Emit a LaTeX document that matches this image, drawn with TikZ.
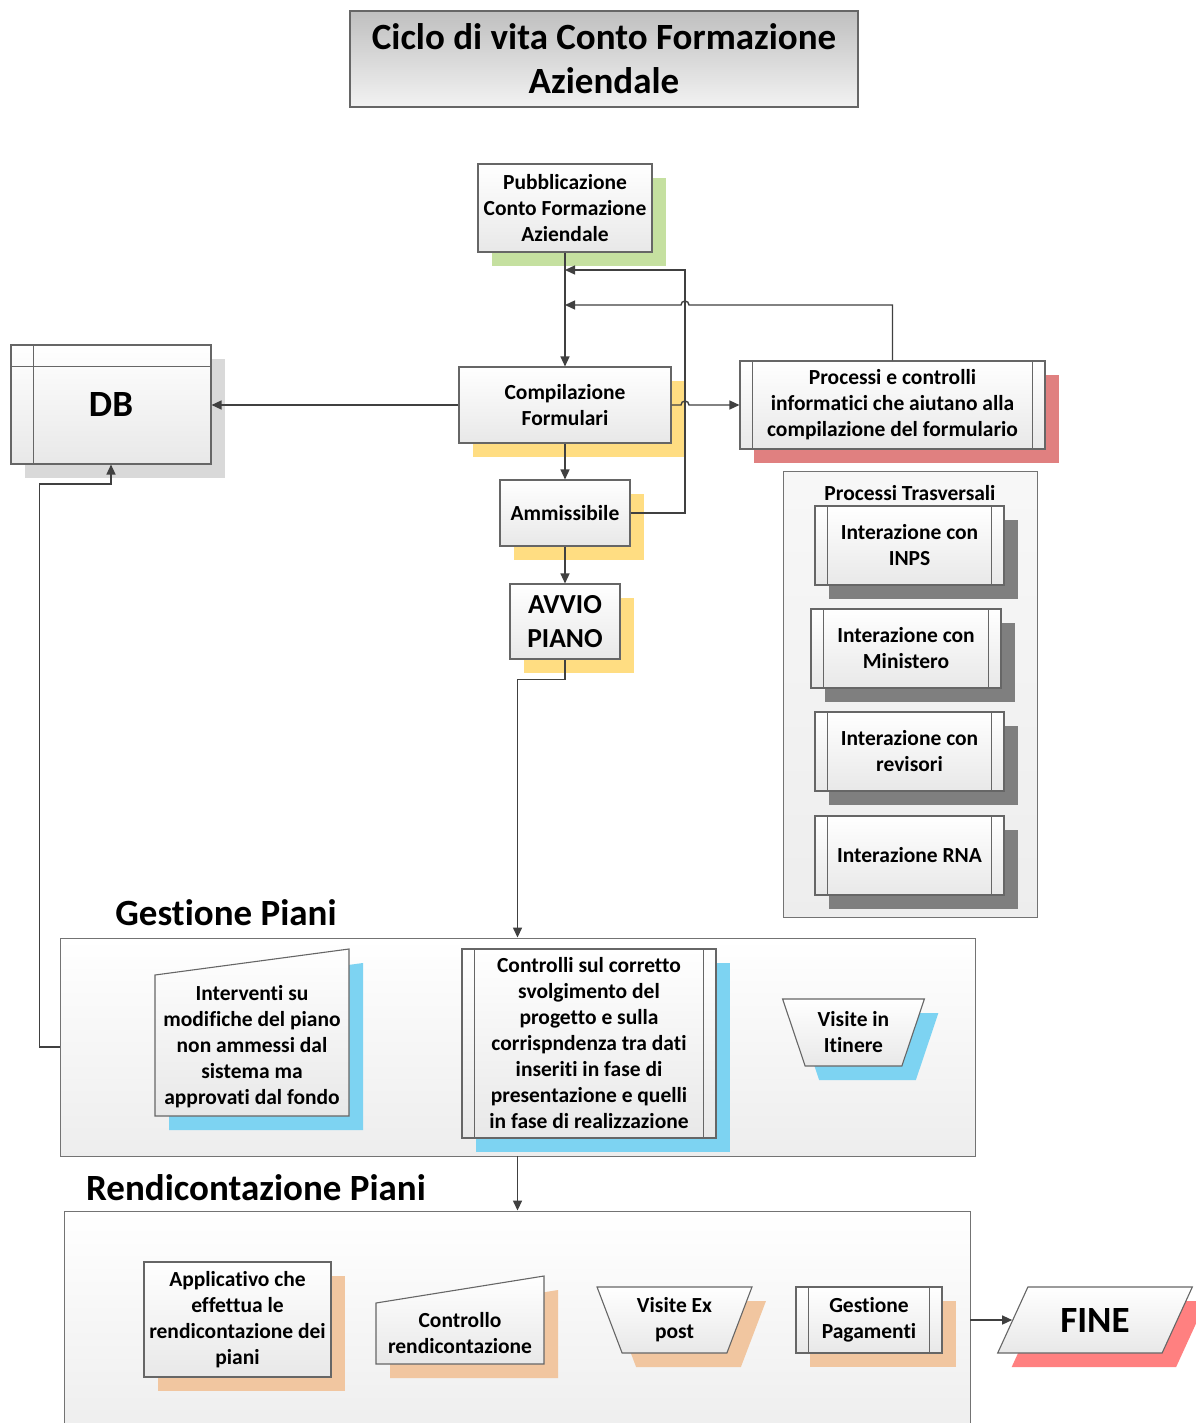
\documentclass[tikz,border=0pt]{standalone}
\usepackage{fontspec}
\setmainfont{Carlito}[RawFeature={-liga;-clig;-calt}]
\usetikzlibrary{shapes.geometric,shadows,arrows.meta}
\definecolor{cgreen}{RGB}{197,224,160}
\definecolor{cyellow}{RGB}{255,221,130}
\definecolor{cred}{RGB}{224,128,128}
\definecolor{cgrayl}{RGB}{217,217,217}
\definecolor{cgrayd}{RGB}{127,127,127}
\definecolor{cblue}{RGB}{125,211,242}
\definecolor{corange}{RGB}{241,198,160}
\definecolor{cfine}{RGB}{255,128,128}
\definecolor{cline}{RGB}{64,64,64}
\begin{document}
\begin{tikzpicture}[x=1pt,y=-1pt,
  font=\bfseries\fontsize{21.5}{26}\selectfont,
  sz/.style 2 args={minimum width=#1pt,minimum height=#2pt},
  bigfont/.style={font=\bfseries\fontsize{37}{44}\selectfont},
  box/.style={draw=black!60,line width=1.1pt,top color=white,bottom color=black!9,align=center,inner sep=0pt},
  boxline/.style={draw=black!60,line width=1.1pt},
  sh/.style={general shadow={fill=#1,shadow xshift=14pt,shadow yshift=-14pt}},
  cont/.style={draw=black!55,line width=0.9pt,top color=white,bottom color=black!7,inner sep=0pt},
  conn/.style={draw=cline,line width=1.4pt,-{Triangle[length=10pt,width=9pt]}},
  trap/.style={box,trapezium,trapezium stretches=true,trapezium left angle=68,trapezium right angle=68,shape border rotate=180}
]
\useasboundingbox (0,0) rectangle (1195,1423);
\fill[white] (0,0) rectangle (1195,1423);

% title
\node[draw=black!60,line width=1.1pt,top color=black!25,bottom color=black!5,align=center,inner sep=0pt,sz={508}{96},bigfont] (title) at (604,59) {Ciclo di vita Conto Formazione\\Aziendale};

% top flow
\node[box,sh=cgreen,sz={174}{88}] (pub) at (565,208) {Pubblicazione\\Conto Formazione\\Aziendale};
\node[box,sh=cyellow,sz={212}{76}] (comp) at (565,405) {Compilazione\\Formulari};
\node[box,sh=cred,sz={305}{88}] (proc) at (892.5,405) {Processi e controlli\\informatici che aiutano alla\\compilazione del formulario};
\node[box,sh=cgrayl,sz={200}{119},bigfont] (db) at (111,404.5) {DB};
\draw[boxline] ([yshift=-22pt]db.north west) -- ([yshift=-22pt]db.north east)
               ([xshift=23pt]db.north west) -- ([xshift=23pt]db.south west);
\node[box,sh=cyellow,sz={130}{66}] (amm) at (565,513) {Ammissibile};
\node[box,sh=cyellow,sz={110}{75},font=\bfseries\fontsize{27.5}{34}\selectfont] (avvio) at (565,621.5) {AVVIO\\PIANO};

% processi trasversali
\node[draw=black!55,line width=0.9pt,top color=black!3,bottom color=black!7,inner sep=0pt,sz={254}{446}] (trasv) at (910,694) {};
\node (trasvt) at (910,493) {Processi Trasversali};
\node[box,sh=cgrayd,sz={189}{79}] (inps) at (909.5,545.5) {Interazione con\\INPS};
\node[box,sh=cgrayd,sz={190}{79}] (mini) at (906,648.5) {Interazione con\\Ministero};
\node[box,sh=cgrayd,sz={189}{79}] (rev) at (909.5,751.5) {Interazione con\\revisori};
\node[box,sh=cgrayd,sz={189}{79}] (rna) at (909.5,855.5) {Interazione RNA};

% gestione piani
\node[bigfont] (gestl) at (226,913) {Gestione Piani};
\node[cont,sz={915}{218}] (gest) at (517.5,1047) {};
\fill[cblue] (169,989) -- (363,963) -- (363,1130) -- (169,1130) -- cycle;
\path[draw=black!60,line width=1.1pt,top color=white,bottom color=black!9] (155,975) -- (349,949) -- (349,1116) -- (155,1116) -- cycle;
\node[align=center,inner sep=0pt] (interv) at (252,1046.5) {Interventi su\\modifiche del piano\\non ammessi dal\\sistema ma\\approvati dal fondo};
\node[box,sh=cblue,sz={254}{189}] (contr) at (589,1043.5) {Controlli sul corretto\\svolgimento del\\progetto e sulla\\corrispndenza tra dati\\inseriti in fase di\\presentazione e quelli\\in fase di realizzazione};
\node[trap,sh=cblue,sz={142}{67}] (vitin) at (853.5,1032.5) {Visite in\\Itinere};

% rendicontazione piani
\node[bigfont] (rendl) at (256,1188) {Rendicontazione Piani};
\node[cont,sz={906}{229}] (rend) at (517,1325.5) {};
\node[box,sh=corange,sz={187}{115}] (appl) at (237.5,1319.5) {Applicativo che\\effettua le\\rendicontazione dei\\piani};
\fill[corange] (390,1317) -- (558,1290) -- (558,1378) -- (390,1378) -- cycle;
\path[draw=black!60,line width=1.1pt,top color=white,bottom color=black!9] (376,1303) -- (544,1276) -- (544,1364) -- (376,1364) -- cycle;
\node[align=center,inner sep=0pt] (crend) at (460,1333) {Controllo\\rendicontazione};
\node[trap,sh=corange,sz={155}{66}] (vexp) at (674.5,1320) {Visite Ex\\post};
\node[box,sh=corange,sz={146}{66}] (gpag) at (869,1320) {Gestione\\Pagamenti};
\node[box,sh=cfine,trapezium,trapezium stretches=true,trapezium left angle=57,trapezium right angle=123,sz={196}{66},bigfont] (fine) at (1095,1320) {FINE};

% predefined-process side lines
\foreach \n in {proc,inps,mini,rev,rna,contr,gpag}
  \draw[boxline] ([xshift=13pt]\n.north west) -- ([xshift=13pt]\n.south west)
                 ([xshift=-13pt]\n.north east) -- ([xshift=-13pt]\n.south east);

% connectors
\coordinate (j1) at (565,270);
\coordinate (j2) at (565,305);
\draw[conn] (pub.south) -- (comp.north);
\draw[conn] (comp.south) -- (amm.north);
\draw[conn] (amm.south) -- (avvio.north);
\draw[conn] (comp.west) -- (comp.west -| db.east);
\draw[conn] (amm.east) -| (685,270) -- (j1);
\draw[conn] (proc.north) |- (689,305) arc[start angle=0,end angle=-180,radius=4] -- (j2);
\draw[conn] (comp.east) -- (681,405) arc[start angle=180,end angle=360,radius=4] -- (proc.west);
\draw[conn] (avvio.south) -- ++(0,20) -| (gest.north);
\draw[conn] (gest.south) -- (gest.south |- rend.north);
\draw[conn] (gest.west) -- ++(-20,0) |- (111,484) -- (db.south);
\draw[conn] (rend.east |- fine.west) -- (fine.west);
\end{tikzpicture}
\end{document}
